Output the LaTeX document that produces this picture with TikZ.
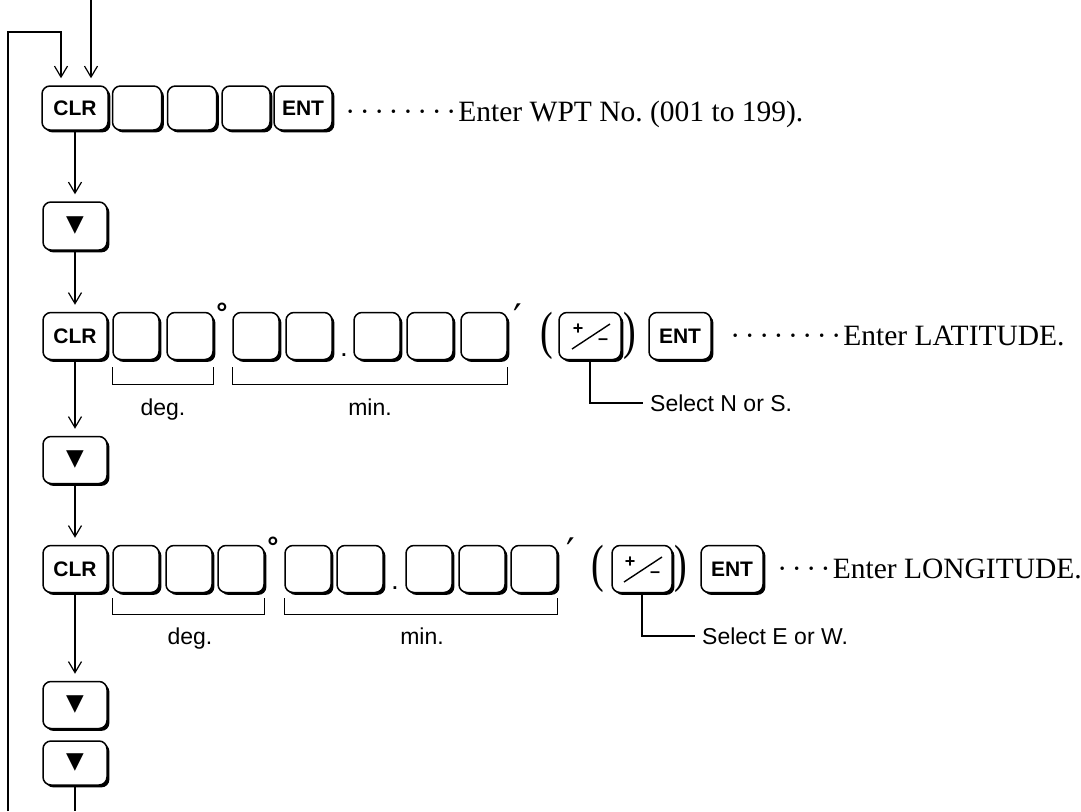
\documentclass[tikz,border=0pt]{standalone}
\usepackage{fontspec}
\setmainfont{Liberation Serif}
\setsansfont{Liberation Sans}
\newfontfamily\symfont{DejaVu Sans}
\usetikzlibrary{arrows.meta,shadows,calc}
\frenchspacing
\newcommand\dotlead[1]{\leavevmode\xleaders\hbox to 14.4pt{\hss·\hss}\hskip#1\relax}
\newcommand\tallparen[1]{\scalebox{1}[1.38]{#1}}
\tikzset{
  keyb/.style={draw, line width=1.5pt, rounded corners=8pt, fill=white,
    minimum height=47pt, inner sep=0pt,
    font=\sffamily\bfseries\fontsize{21}{23}\selectfont,
    drop shadow={shadow xshift=2.4pt, shadow yshift=-2.4pt, fill=black, opacity=1}},
  blankkey/.style={keyb, minimum width=46pt},
  widekey/.style={keyb, minimum width=64pt},
  conn/.style={line width=1.2pt},
  arr/.style={line width=1.2pt, -{Straight Barb[length=11pt,width=13pt]}, shorten >=7pt},
  lab/.style={font=\sffamily\fontsize{23}{25}\selectfont, inner sep=0pt},
  txt/.style={font=\fontsize{29.5}{31}\selectfont, inner sep=0pt, anchor=base west},
  paren/.style={font=\fontsize{38}{38}\selectfont, inner sep=0pt},
  degsign/.style={anchor=north, font=\sffamily\bfseries\fontsize{28}{28}\selectfont, inner sep=0pt},
  primesign/.style={anchor=north, font=\symfont\fontsize{38}{38}\selectfont, inner sep=0pt},
  decdot/.style={anchor=base, font=\sffamily\bfseries\fontsize{19}{19}\selectfont, inner sep=0pt},
  pmsign/.style={font=\sffamily\bfseries\fontsize{18}{18}\selectfont, inner sep=0pt},
  downkey/.style={keyb, minimum width=64pt, font=\symfont\fontsize{23}{23}\selectfont}
}
\begin{document}
\begin{tikzpicture}[x=1pt,y=-1pt]
\useasboundingbox (0,0) rectangle (1081,811);

% ---------- row 1 ----------
\node[keyb, minimum width=66pt, minimum height=44pt] (clr1) at (75,108) {CLR};
\node[keyb, minimum width=49pt, minimum height=44pt] (b11) at (137,108) {};
\node[keyb, minimum width=49pt, minimum height=44pt] (b12) at (192,108) {};
\node[keyb, minimum width=48pt, minimum height=44pt] (b13) at (246,108) {};
\node[keyb, minimum width=58pt, minimum height=44pt] (ent1) at (303,108) {ENT};
\node[txt] (t1) at (343,121) {\dotlead{115.2pt}Enter WPT No. (001 to 199).};

% ---------- column ----------
\node[downkey, minimum height=48pt] (dn1) at (75,226) {▼};
\node[downkey] (dn2) at (75,460) {▼};
\node[downkey] (dn3) at (75,705) {▼};
\node[downkey, minimum height=44pt] (dn4) at (75,763) {▼};

% ---------- row 2 ----------
\node[widekey] (clr2) at (75,336) {CLR};
\node[blankkey] (d21) at (136,336) {};
\node[blankkey] (d22) at (190,336) {};
\node[degsign] (dg2) at (222,303) {°};
\node[blankkey] (m21) at (256,336) {};
\node[blankkey] (m22) at (309,336) {};
\node[decdot] (pt2) at (344,356) {.};
\node[blankkey] (m23) at (377,336) {};
\node[blankkey] (m24) at (430,336) {};
\node[blankkey] (m25) at (484,336) {};
\node[primesign] (pr2) at (518,304) {′};
\node[paren] (po2) at (547,336) {\tallparen(};
\node[keyb, minimum width=62pt] (pm2) at (590,336) {};
\node[pmsign] (pm2p) at ([shift={(-12pt,7pt)}]pm2.center) {+};
\node[pmsign] (pm2m) at ([shift={(13pt,-6pt)}]pm2.center) {–};
\draw[line width=1.4pt] ([shift={(-18pt,-13pt)}]pm2.center) -- ([shift={(20pt,12pt)}]pm2.center);
\node[paren] (pc2) at (630,336) {\tallparen)};
\node[keyb, minimum width=62pt] (ent2) at (680,336) {ENT};
\node[txt] (t2) at (728,345.5) {\dotlead{115.2pt}Enter LATITUDE.};

\draw[conn] ([yshift=-7pt]d21.south west) -- ++(0,17) -| ([yshift=-7pt]d22.south east);
\draw[conn] ([yshift=-7pt]m21.south west) -- ++(0,17) -| ([yshift=-7pt]m25.south east);
\node[lab, anchor=base] (lg2) at (163,415) {deg.};
\node[lab, anchor=base] (lm2) at (370,415) {min.};
\node[lab, anchor=west, inner xsep=7pt] (s2) at (643,403) {Select N or S.};
\draw[conn] (pm2.south) |- (s2.west);

% ---------- row 3 ----------
\node[widekey] (clr3) at (75,569) {CLR};
\node[blankkey] (d31) at (136,569) {};
\node[blankkey] (d32) at (189,569) {};
\node[blankkey] (d33) at (241,569) {};
\node[degsign] (dg3) at (273,537) {°};
\node[blankkey] (m31) at (308,569) {};
\node[blankkey] (m32) at (360,569) {};
\node[decdot] (pt3) at (395,589) {.};
\node[blankkey] (m33) at (429,569) {};
\node[blankkey] (m34) at (482,569) {};
\node[blankkey] (m35) at (534,569) {};
\node[primesign] (pr3) at (571,538) {′};
\node[paren] (po3) at (598,569) {\tallparen(};
\node[keyb, minimum width=60pt] (pm3) at (642,569) {};
\node[pmsign] (pm3p) at ([shift={(-12pt,7pt)}]pm3.center) {+};
\node[pmsign] (pm3m) at ([shift={(13pt,-6pt)}]pm3.center) {–};
\draw[line width=1.4pt] ([shift={(-18pt,-13pt)}]pm3.center) -- ([shift={(20pt,12pt)}]pm3.center);
\node[paren] (pc3) at (681,569) {\tallparen)};
\node[keyb, minimum width=62pt] (ent3) at (732,569) {ENT};
\node[txt] (t3) at (775,578.5) {\dotlead{57.6pt}Enter LONGITUDE.};

\draw[conn] ([yshift=-5pt]d31.south west) -- ++(0,16) -| ([yshift=-5pt]d33.south east);
\draw[conn] ([yshift=-5pt]m31.south west) -- ++(0,16) -| ([yshift=-5pt]m35.south east);
\node[lab, anchor=base] (lg3) at (190,644) {deg.};
\node[lab, anchor=base] (lm3) at (422,644) {min.};
\node[lab, anchor=west, inner xsep=7pt] (s3) at (695,636) {Select E or W.};
\draw[conn] (pm3.south) |- (s3.west);

% ---------- connectors ----------
\coordinate (lb) at (8,811);
\coordinate (lt) at (8,32);
\coordinate (src) at (91,0);
\coordinate (bb) at (75,811);
\draw[arr] (lb) -- (lt) -| ([xshift=-14pt]clr1.north);
\draw[arr] (src) -- ([xshift=16pt]clr1.north);
\draw[arr] (clr1) -- (dn1);
\draw[arr] (dn1) -- (clr2);
\draw[arr] (clr2) -- (dn2);
\draw[arr] (dn2) -- (clr3);
\draw[arr] (clr3) -- (dn3);
\draw[conn] (dn4) -- (bb);
\end{tikzpicture}
\end{document}
